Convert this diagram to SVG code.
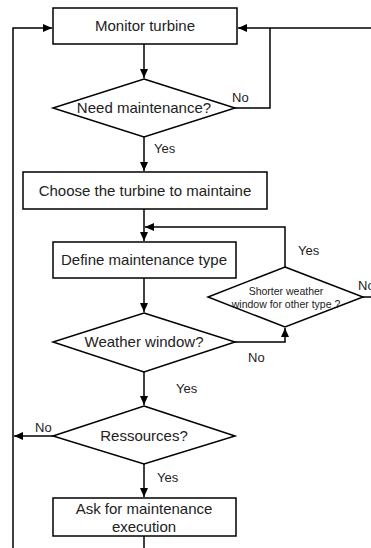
<svg xmlns="http://www.w3.org/2000/svg" width="371" height="548" viewBox="0 0 371 548">
<defs>
<marker id="ah" markerWidth="10" markerHeight="10" refX="9" refY="5" orient="auto" markerUnits="userSpaceOnUse">
<path d="M0,1 L9,5 L0,9 Z" fill="#000"/>
</marker>
<style>
.n{fill:#fff;stroke:#000;stroke-width:1.5}
.c{fill:none;stroke:#000;stroke-width:1.5}
.t{font-family:"Liberation Sans",Arial,sans-serif;font-size:15px;fill:#222;text-anchor:middle}
.s{font-family:"Liberation Sans",Arial,sans-serif;font-size:10.5px;fill:#222;text-anchor:middle}
.l{font-family:"Liberation Sans",Arial,sans-serif;font-size:13px;fill:#222}
</style>
</defs>
<rect width="371" height="548" fill="#fff"/>
<g id="connectors">
<path class="c" d="M13,548 V28 H52" marker-end="url(#ah)"/>
<path class="c" d="M371,28 H238" marker-end="url(#ah)"/>
<path class="c" d="M235,108 H270 V28"/>
<path class="c" d="M144,44 V78" marker-end="url(#ah)"/>
<path class="c" d="M144,137 V171" marker-end="url(#ah)"/>
<path class="c" d="M144,209 V241" marker-end="url(#ah)"/>
<path class="c" d="M285,267 V227 H145" marker-end="url(#ah)"/>
<path class="c" d="M144,278 V312" marker-end="url(#ah)"/>
<path class="c" d="M235,342 H285 V328" marker-end="url(#ah)"/>
<path class="c" d="M363,297 H371"/>
<path class="c" d="M144,372 V405" marker-end="url(#ah)"/>
<path class="c" d="M53,436 H14" marker-end="url(#ah)"/>
<path class="c" d="M144,464 V497" marker-end="url(#ah)"/>
<path class="c" d="M144,536 V548"/>
<text class="l" x="232" y="102">No</text>
<text class="l" x="154" y="153">Yes</text>
<text class="l" x="298" y="255">Yes</text>
<text class="l" x="358" y="290">No</text>
<text class="l" x="248" y="362">No</text>
<text class="l" x="176" y="393">Yes</text>
<text class="l" x="35" y="432">No</text>
<text class="l" x="157" y="482">Yes</text>
</g>
<g id="monitor">
<rect class="n" x="53" y="8" width="184" height="36"/>
<text class="t" x="145" y="31">Monitor turbine</text>
</g>
<g id="need">
<polygon class="n" points="144,79 235,108 144,137 53,108"/>
<text class="t" x="144" y="113">Need maintenance?</text>
</g>
<g id="choose">
<rect class="n" x="23" y="172" width="244" height="37"/>
<text class="t" x="145" y="196">Choose the turbine to maintaine</text>
</g>
<g id="define">
<rect class="n" x="53" y="242" width="183" height="36"/>
<text class="t" x="144" y="265">Define maintenance type</text>
</g>
<g id="shorter">
<polygon class="n" points="285,267 363,297 285,327 208,297"/>
<text class="s" x="286" y="295">Shorter weather</text>
<text class="s" x="286" y="308">window for other type ?</text>
</g>
<g id="weather">
<polygon class="n" points="144,313 235,342 144,372 53,342"/>
<text class="t" x="144" y="347">Weather window?</text>
</g>
<g id="resources">
<polygon class="n" points="144,406 235,436 144,464 53,436"/>
<text class="t" x="144" y="441">Ressources?</text>
</g>
<g id="ask">
<rect class="n" x="53" y="498" width="183" height="38"/>
<text class="t" x="144" y="514">Ask for maintenance</text>
<text class="t" x="144" y="532">execution</text>
</g>
</svg>
